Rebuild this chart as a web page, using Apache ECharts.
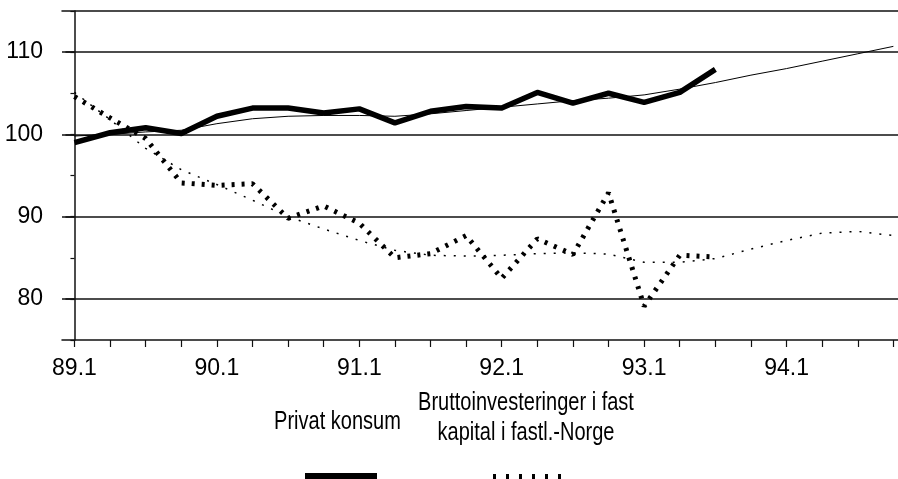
<!DOCTYPE html>
<html><head><meta charset="utf-8">
<script src="https://cdn.jsdelivr.net/npm/echarts@6/dist/echarts.min.js"></script>
<style>html,body{margin:0;padding:0;background:#fff}#c{width:898px;height:479px}</style>
</head><body><div id="c"></div>
<script>
const quarters = ["89.1","89.2","89.3","89.4","90.1","90.2","90.3","90.4","91.1","91.2","91.3","91.4",
                  "92.1","92.2","92.3","92.4","93.1","93.2","93.3","93.4","94.1","94.2","94.3","94.4"];
const tickLabels = ["89.1","90.1","91.1","92.1","93.1","94.1"];
const yTickValues = [80, 90, 100, 110];
const privatKonsum = [99.0, 100.2, 100.8, 100.1, 102.2, 103.2, 103.2, 102.6, 103.1, 101.4, 102.8, 103.4,
                      103.2, 105.1, 103.8, 105.0, 103.9, 105.1, 107.9];
const privatKonsumTrend = [99.8, 100.0, 100.3, 100.5, 101.3, 101.9, 102.2, 102.3, 102.3, 102.2, 102.5, 102.9,
                           103.3, 103.7, 104.1, 104.4, 104.8, 105.5, 106.3, 107.2, 108.0, 108.9, 109.8, 110.7];
const investeringer = [104.6, 102.0, 99.5, 94.1, 93.8, 94.0, 89.8, 91.3, 89.2, 85.0, 85.5, 87.7,
                       82.5, 87.3, 85.4, 92.9, 79.1, 85.3, 85.1];
const investeringerTrend = [105.1, 101.8, 98.3, 95.7, 93.9, 92.0, 90.0, 88.5, 87.1, 85.9, 85.3, 85.2,
                            85.3, 85.5, 85.6, 85.45, 84.45, 84.45, 84.9, 86.05, 87.1, 88.0, 88.2, 87.7];
const legendNames = ["Privat konsum", "Bruttoinvesteringer i fast\nkapital i fastl.-Norge"];

const FONT = "'Liberation Sans Narrow', 'Arial Narrow', 'Liberation Sans', Arial, sans-serif";
const toPairs = arr => arr.map((v, i) => [i, v]);
const tickIdx = quarters.map((q, i) => i);
const labelIdx = quarters.map((q, i) => tickLabels.includes(q) ? i : -1).filter(i => i >= 0);
const AX = '#111';

const chart = echarts.init(document.getElementById('c'), null, {renderer: 'canvas'});
chart.setOption({
  animation: false,
  backgroundColor: '#fff',
  grid: {left: 62, top: 11, right: 0, bottom: 139, containLabel: false},
  xAxis: [{
    type: 'value', min: -0.35, max: 23.13,
    axisLine: {show: true, onZero: false, lineStyle: {color: AX, width: 1.5}},
    axisTick: {show: true, customValues: tickIdx, length: 7, lineStyle: {color: AX, width: 1.2}},
    axisLabel: {customValues: labelIdx, formatter: v => quarters[Math.round(v)],
                fontSize: 23, fontFamily: FONT, color: '#000', margin: 17},
    splitLine: {show: false}
  }, {
    type: 'value', position: 'top', min: -0.35, max: 23.13,
    axisLine: {show: true, onZero: false, lineStyle: {color: AX, width: 1.5}},
    axisTick: {show: false}, axisLabel: {show: false}, splitLine: {show: false}
  }],
  yAxis: [{
    type: 'value', min: 75, max: 115,
    axisLine: {show: true, lineStyle: {color: AX, width: 1.5}},
    axisTick: {show: true, customValues: yTickValues, length: 9, lineStyle: {color: AX, width: 1.5}},
    axisLabel: {customValues: yTickValues, fontSize: 23, fontFamily: FONT, color: '#000', margin: 19,
                padding: [4, 0, 0, 0]},
    splitLine: {show: true, lineStyle: {color: AX, width: 1.5}}
  }, {
    type: 'value', position: 'left', min: 75, max: 115, interval: 5,
    axisLine: {show: false},
    axisTick: {show: true, length: 4, lineStyle: {color: AX, width: 1.2}},
    axisLabel: {show: false}, splitLine: {show: false}
  }],
  series: [
    {name: legendNames[0], type: 'line', data: toPairs(privatKonsum), symbol: 'none', silent: true,
     lineStyle: {color: '#000', width: 5.5, join: 'round'}, z: 3},
    {name: legendNames[0] + ' trend', type: 'line', data: toPairs(privatKonsumTrend), symbol: 'none', silent: true,
     lineStyle: {color: '#000', width: 1}, z: 4},
    {name: legendNames[1], type: 'line', data: toPairs(investeringer), symbol: 'none', silent: true,
     lineStyle: {color: '#000', width: 5, type: [3, 7], cap: 'butt'}, z: 3},
    {name: legendNames[1] + ' trend', type: 'line', data: toPairs(investeringerTrend), symbol: 'none', silent: true,
     lineStyle: {color: '#000', width: 1.5, type: [2, 8], cap: 'butt'}, z: 4}
  ],
  graphic: [
    {type: 'text', x: 337.5, y: 422, scaleX: 0.77,
     style: {text: legendNames[0], font: "26px " + FONT, fill: '#000', align: 'center', verticalAlign: 'middle'}},
    {type: 'text', x: 526, y: 418, scaleX: 0.77,
     style: {text: legendNames[1], font: "26px " + FONT, fill: '#000', align: 'center', verticalAlign: 'middle',
             lineHeight: 30}},
    {type: 'rect', shape: {x: 305, y: 473, width: 72, height: 10}, style: {fill: '#000'}},
    {type: 'line', shape: {x1: 493, y1: 478, x2: 562, y2: 478},
     style: {stroke: '#000', lineWidth: 8, lineDash: [3, 10]}}
  ]
});
</script></body></html>
